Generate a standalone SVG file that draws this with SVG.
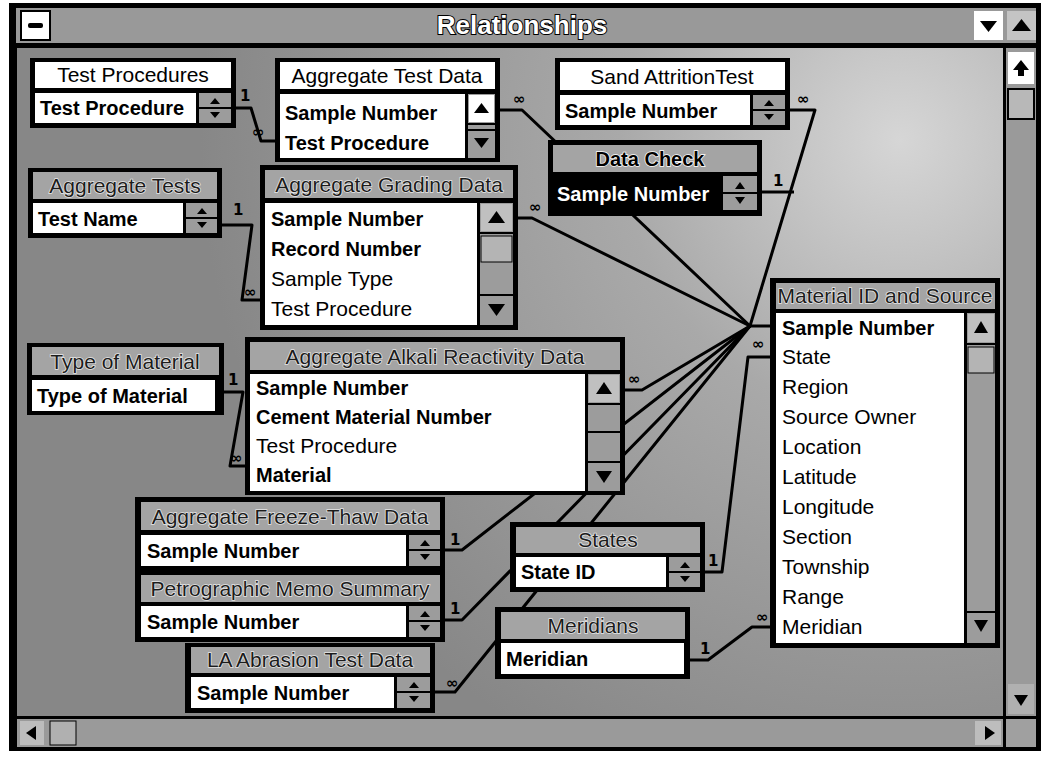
<svg xmlns="http://www.w3.org/2000/svg" width="1051" height="757" viewBox="0 0 1051 757">
<defs>
<radialGradient id="bg" cx="900" cy="140" r="700" gradientUnits="userSpaceOnUse">
<stop offset="0" stop-color="#d6d6d6"/>
<stop offset="0.4" stop-color="#a9a9a9"/>
<stop offset="1" stop-color="#878787"/>
</radialGradient>
<style>
.frame{fill:#000}
.tw{fill:#fff}
.tg{fill:#a4a4a4}
.list{fill:#fff}
.sb{fill:#9c9c9c}
.sel{fill:#000}
.ttl{font-family:"Liberation Sans",Arial,sans-serif;font-size:21px;text-anchor:middle;fill:#000}
.ttg{font-family:"Liberation Sans",Arial,sans-serif;font-size:21px;text-anchor:middle;fill:#1c1c1c;stroke:#e6e6e6;stroke-width:1.5px;paint-order:stroke}
.ttb{font-family:"Liberation Sans",Arial,sans-serif;font-size:20px;font-weight:bold;text-anchor:middle;fill:#000;stroke:#fff;stroke-width:1.5px;paint-order:stroke}
.fb{font-family:"Liberation Sans",Arial,sans-serif;font-size:20px;font-weight:bold;fill:#000}
.fw{font-family:"Liberation Sans",Arial,sans-serif;font-size:20px;font-weight:bold;fill:#fff}
.fr{font-family:"Liberation Sans",Arial,sans-serif;font-size:21px;fill:#000}
.ln{fill:none;stroke:#000;stroke-width:3;stroke-linejoin:round}
.lab{font-family:"DejaVu Sans",sans-serif;font-size:15px;font-weight:bold;fill:#000}
.ar{fill:#000}
.btn{fill:#fff}
.sep{stroke:#000;stroke-width:2}
.wt{font-family:"Liberation Sans",Arial,sans-serif;font-size:26px;font-weight:bold;text-anchor:middle;fill:#fff;stroke:#000;stroke-width:2px;paint-order:stroke}
</style>
</defs>

<!-- window chrome -->
<g id="window">
<rect x="0" y="0" width="1051" height="757" fill="#fff"/>
<rect x="9" y="3" width="1032" height="748" fill="#000"/>
<rect x="16" y="8" width="1020" height="35" fill="#999"/>
<rect x="21" y="11" width="29" height="29" class="btn" stroke="#000" stroke-width="2"/>
<rect x="28" y="23" width="15" height="5" rx="2" class="ar"/>
<text x="522" y="34" class="wt">Relationships</text>
<rect x="974" y="11" width="29" height="29" class="btn"/>
<path d="M980,21 L997,21 L988.5,32 Z" class="ar"/>
<rect x="1007" y="11" width="29" height="29" fill="#c4c4c4"/>
<path d="M1012,31 L1031,31 L1021.5,19 Z" class="ar"/>
<rect x="17" y="48" width="986" height="668" fill="url(#bg)"/>
<rect x="1006" y="48" width="30" height="668" fill="#9a9a9a"/>
<rect x="1008" y="52" width="26" height="32" class="btn"/>
<path d="M1013,70 L1029,70 L1021,60 Z M1018,70 h6 v6 h-6 Z" class="ar"/>
<rect x="1008" y="89" width="26" height="30" fill="#b8b8b8" stroke="#000" stroke-width="2"/>
<rect x="1008" y="684" width="26" height="30" fill="#b0b0b0"/>
<path d="M1014,695 L1028,695 L1021,706 Z" class="ar"/>
<rect x="17" y="719" width="986" height="28" fill="#9a9a9a"/>
<rect x="20" y="721" width="24" height="24" fill="#bdbdbd"/>
<path d="M26,733 L36,726 L36,740 Z" class="ar"/>
<rect x="50" y="721" width="26" height="24" fill="#b0b0b0" stroke="#000" stroke-width="1"/>
<rect x="975" y="721" width="26" height="24" fill="#bdbdbd"/>
<path d="M995,733 L985,726 L985,740 Z" class="ar"/>
<rect x="1006" y="719" width="30" height="28" fill="#a0a0a0"/>
</g>

<!-- connectors -->
<g id="connectors">
<path class="ln" d="M236,108 H251 L261,141 H275"/>
<path class="ln" d="M222,225 H252 L242,300 H262"/>
<path class="ln" d="M224,392 H243 L230,466 H246"/>
<path class="ln" d="M500,110 H522 L750,326 H770"/>
<path class="ln" d="M518,218 H532 L750,326"/>
<path class="ln" d="M790,110 H815 L750,326"/>
<path class="ln" d="M762,192 H794"/>
<path class="ln" d="M625,390 H642 L750,326"/>
<path class="ln" d="M445,550 H462 L750,326"/>
<path class="ln" d="M445,620 H462 L750,326"/>
<path class="ln" d="M435,692 H455 L750,326"/>
<path class="ln" d="M705,572 H722 L748,357 H770"/>
<path class="ln" d="M690,660 H708 L752,627 H770"/>
<text class="lab" x="240" y="101">1</text>
<text class="lab" x="252" y="137">∞</text>
<text class="lab" x="233" y="215">1</text>
<text class="lab" x="244" y="297">∞</text>
<text class="lab" x="228" y="385">1</text>
<text class="lab" x="230" y="463">∞</text>
<text class="lab" x="513" y="104">∞</text>
<text class="lab" x="529" y="212">∞</text>
<text class="lab" x="797" y="104">∞</text>
<text class="lab" x="773" y="186">1</text>
<text class="lab" x="628" y="384">∞</text>
<text class="lab" x="450" y="545">1</text>
<text class="lab" x="450" y="614">1</text>
<text class="lab" x="446" y="688">∞</text>
<text class="lab" x="708" y="566">1</text>
<text class="lab" x="752" y="349">∞</text>
<text class="lab" x="700" y="654">1</text>
<text class="lab" x="756" y="622">∞</text>
</g>

<!-- tables -->
<g id="t-test-procedures">
<rect class="frame" x="30" y="58" width="206" height="70"/>
<rect class="tw" x="35" y="62" width="196" height="26"/>
<text class="ttl" x="133" y="82">Test Procedures</text>
<rect class="list" x="35" y="93" width="161" height="30"/>
<rect class="sb" x="199" y="93" width="32" height="30"/>
<line class="sep" x1="199" y1="108" x2="231" y2="108"/>
<path class="ar" d="M210,104 L220,104 L215,98 Z M210,112 L220,112 L215,118 Z"/>
<text class="fb" x="40" y="115">Test Procedure</text>
</g>

<g id="t-aggregate-test-data">
<rect class="frame" x="275" y="58" width="225" height="104"/>
<rect class="tw" x="280" y="62" width="215" height="27"/>
<text class="ttl" x="387" y="83">Aggregate Test Data</text>
<rect class="list" x="280" y="94" width="185" height="64"/>
<rect class="sb" x="468" y="94" width="27" height="64"/>
<rect class="btn" x="469" y="95" width="25" height="27"/>
<path class="ar" d="M474,113 L489,113 L481.5,103 Z"/>
<line class="sep" x1="468" y1="124" x2="495" y2="124"/>
<line class="sep" x1="468" y1="130" x2="495" y2="130"/>
<path class="ar" d="M474,138 L489,138 L481.5,148 Z"/>
<text class="fb" x="285" y="120">Sample Number</text>
<text class="fb" x="285" y="150">Test Procedure</text>
</g>

<g id="t-sand-attrition-test">
<rect class="frame" x="555" y="58" width="235" height="72"/>
<rect class="tw" x="560" y="62" width="225" height="28"/>
<text class="ttl" x="672" y="84">Sand AttritionTest</text>
<rect class="list" x="560" y="95" width="190" height="30"/>
<rect class="sb" x="753" y="95" width="32" height="30"/>
<line class="sep" x1="753" y1="110" x2="785" y2="110"/>
<path class="ar" d="M764,106 L774,106 L769,100 Z M764,114 L774,114 L769,120 Z"/>
<text class="fb" x="565" y="118">Sample Number</text>
</g>

<g id="t-data-check">
<rect class="frame" x="548" y="140" width="214" height="76"/>
<rect class="tg" x="553" y="145" width="204" height="27"/>
<text class="ttb" x="650" y="166">Data Check</text>
<rect class="sel" x="553" y="176" width="167" height="34"/>
<rect class="sb" x="723" y="176" width="34" height="34"/>
<line class="sep" x1="723" y1="193" x2="757" y2="193"/>
<path class="ar" d="M735,189 L745,189 L740,182 Z M735,197 L745,197 L740,204 Z"/>
<text class="fw" x="557" y="201">Sample Number</text>
</g>

<g id="t-aggregate-tests">
<rect class="frame" x="28" y="168" width="194" height="70"/>
<rect class="tg" x="33" y="172" width="184" height="27"/>
<text class="ttg" x="125" y="193">Aggregate Tests</text>
<rect class="list" x="33" y="203" width="150" height="30"/>
<rect class="sb" x="186" y="203" width="31" height="30"/>
<line class="sep" x1="186" y1="218" x2="217" y2="218"/>
<path class="ar" d="M197,214 L207,214 L202,208 Z M197,222 L207,222 L202,228 Z"/>
<text class="fb" x="38" y="226">Test Name</text>
</g>

<g id="t-aggregate-grading-data">
<rect class="frame" x="260" y="165" width="258" height="165"/>
<rect class="tg" x="265" y="170" width="248" height="28"/>
<text class="ttg" x="389" y="192">Aggregate Grading Data</text>
<rect class="list" x="265" y="203" width="212" height="122"/>
<rect class="sb" x="480" y="203" width="33" height="122"/>
<rect fill="#c0c0c0" x="481" y="204" width="31" height="27"/>
<path class="ar" d="M488,223 L505,223 L496.5,211 Z"/>
<line class="sep" x1="480" y1="233" x2="513" y2="233"/>
<rect fill="#b4b4b4" x="481" y="236" width="31" height="26" stroke="#000" stroke-width="1"/>
<line class="sep" x1="480" y1="295" x2="513" y2="295"/>
<path class="ar" d="M488,304 L505,304 L496.5,316 Z"/>
<text class="fb" x="271" y="226">Sample Number</text>
<text class="fb" x="271" y="256">Record Number</text>
<text class="fr" x="271" y="286">Sample Type</text>
<text class="fr" x="271" y="316">Test Procedure</text>
</g>

<g id="t-type-of-material">
<rect class="frame" x="27" y="343" width="197" height="72"/>
<rect class="tg" x="32" y="347" width="187" height="28"/>
<text class="ttg" x="125" y="369">Type of Material</text>
<rect class="list" x="32" y="380" width="183" height="31"/>
<text class="fb" x="37" y="403">Type of Material</text>
</g>

<g id="t-aggregate-alkali-reactivity-data">
<rect class="frame" x="245" y="337" width="380" height="158"/>
<rect class="tg" x="250" y="342" width="370" height="28"/>
<text class="ttg" x="435" y="364">Aggregate Alkali Reactivity Data</text>
<rect class="list" x="250" y="374" width="335" height="117"/>
<rect class="sb" x="588" y="374" width="32" height="117"/>
<rect fill="#c0c0c0" x="589" y="375" width="30" height="27"/>
<path class="ar" d="M596,394 L612,394 L604,382 Z"/>
<line class="sep" x1="588" y1="404" x2="620" y2="404"/>
<line class="sep" x1="588" y1="432" x2="620" y2="432"/>
<line class="sep" x1="588" y1="462" x2="620" y2="462"/>
<path class="ar" d="M596,471 L612,471 L604,483 Z"/>
<text class="fb" x="256" y="395">Sample Number</text>
<text class="fb" x="256" y="424">Cement Material Number</text>
<text class="fr" x="256" y="453">Test Procedure</text>
<text class="fb" x="256" y="482">Material</text>
</g>

<g id="t-aggregate-freeze-thaw-data">
<rect class="frame" x="135" y="497" width="310" height="73"/>
<rect class="tg" x="141" y="502" width="299" height="28"/>
<text class="ttg" x="290" y="524">Aggregate Freeze-Thaw Data</text>
<rect class="list" x="141" y="535" width="265" height="31"/>
<rect class="sb" x="409" y="535" width="31" height="31"/>
<line class="sep" x1="409" y1="550" x2="440" y2="550"/>
<path class="ar" d="M420,546 L430,546 L425,540 Z M420,554 L430,554 L425,560 Z"/>
<text class="fb" x="147" y="558">Sample Number</text>
</g>

<g id="t-petrographic-memo-summary">
<rect class="frame" x="135" y="570" width="310" height="72"/>
<rect class="tg" x="141" y="575" width="299" height="27"/>
<text class="ttg" x="290" y="596">Petrographic Memo Summary</text>
<rect class="list" x="141" y="606" width="265" height="31"/>
<rect class="sb" x="409" y="606" width="31" height="31"/>
<line class="sep" x1="409" y1="621" x2="440" y2="621"/>
<path class="ar" d="M420,617 L430,617 L425,611 Z M420,625 L430,625 L425,631 Z"/>
<text class="fb" x="147" y="629">Sample Number</text>
</g>

<g id="t-la-abrasion-test-data">
<rect class="frame" x="185" y="643" width="250" height="70"/>
<rect class="tg" x="191" y="647" width="239" height="26"/>
<text class="ttg" x="310" y="667">LA Abrasion Test Data</text>
<rect class="list" x="191" y="677" width="203" height="31"/>
<rect class="sb" x="397" y="677" width="33" height="31"/>
<line class="sep" x1="397" y1="692" x2="430" y2="692"/>
<path class="ar" d="M409,688 L419,688 L414,682 Z M409,696 L419,696 L414,702 Z"/>
<text class="fb" x="197" y="700">Sample Number</text>
</g>

<g id="t-states">
<rect class="frame" x="510" y="522" width="195" height="70"/>
<rect class="tg" x="516" y="527" width="184" height="26"/>
<text class="ttg" x="608" y="547">States</text>
<rect class="list" x="516" y="557" width="150" height="30"/>
<rect class="sb" x="669" y="557" width="31" height="30"/>
<line class="sep" x1="669" y1="572" x2="700" y2="572"/>
<path class="ar" d="M680,568 L690,568 L685,562 Z M680,576 L690,576 L685,582 Z"/>
<text class="fb" x="521" y="579">State ID</text>
</g>

<g id="t-meridians">
<rect class="frame" x="495" y="607" width="195" height="72"/>
<rect class="tg" x="501" y="612" width="184" height="27"/>
<text class="ttg" x="593" y="633">Meridians</text>
<rect class="list" x="501" y="643" width="183" height="31"/>
<text class="fb" x="506" y="666">Meridian</text>
</g>

<g id="t-material-id-and-source">
<rect class="frame" x="770" y="278" width="230" height="370"/>
<rect class="tg" x="776" y="283" width="219" height="26"/>
<text class="ttg" x="885" y="303">Material ID and Source</text>
<rect class="list" x="776" y="313" width="188" height="330"/>
<rect class="sb" x="967" y="313" width="28" height="330"/>
<rect fill="#c0c0c0" x="968" y="314" width="26" height="28"/>
<path class="ar" d="M974,333 L988,333 L981,321 Z"/>
<line class="sep" x1="967" y1="344" x2="995" y2="344"/>
<rect fill="#b4b4b4" x="968" y="347" width="26" height="26" stroke="#000" stroke-width="1"/>
<line class="sep" x1="967" y1="612" x2="995" y2="612"/>
<path class="ar" d="M974,620 L988,620 L981,632 Z"/>
<text class="fb" x="782" y="335">Sample Number</text>
<text class="fr" x="782" y="364">State</text>
<text class="fr" x="782" y="394">Region</text>
<text class="fr" x="782" y="424">Source Owner</text>
<text class="fr" x="782" y="454">Location</text>
<text class="fr" x="782" y="484">Latitude</text>
<text class="fr" x="782" y="514">Longitude</text>
<text class="fr" x="782" y="544">Section</text>
<text class="fr" x="782" y="574">Township</text>
<text class="fr" x="782" y="604">Range</text>
<text class="fr" x="782" y="634">Meridian</text>
</g>
</svg>
